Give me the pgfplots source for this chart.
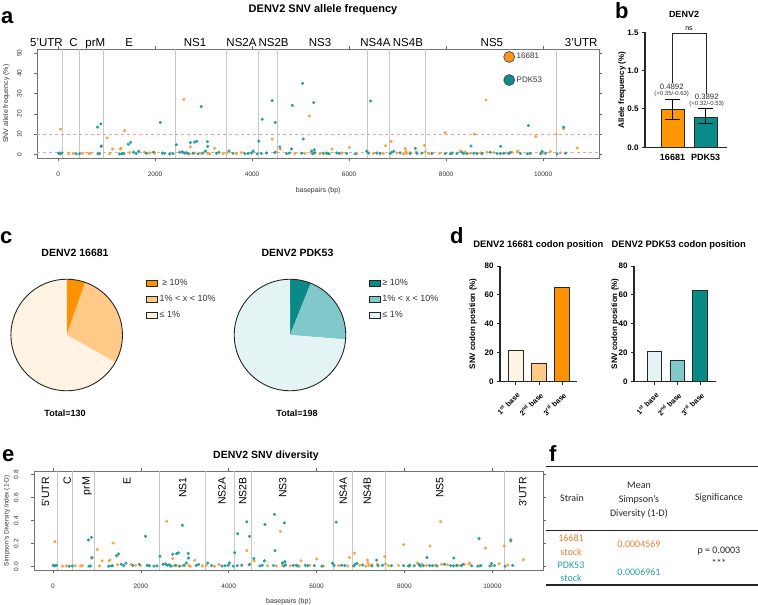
\documentclass[border=0pt]{standalone}
\usepackage{fontspec}
\setmainfont{Liberation Sans}
\newfontfamily\carlito{Carlito}
\usepackage{pgfplots}
\usepackage{pgfplotstable}
\pgfplotsset{compat=1.18}

\definecolor{ptOr}{HTML}{F9A23C}
\definecolor{ptTe}{HTML}{23A0A0}
\definecolor{lgOr}{HTML}{F7941D}
\definecolor{lgTe}{HTML}{0E8C8C}
\definecolor{bOr}{HTML}{FF9800}
\definecolor{bTe}{HTML}{0B8A8A}
\definecolor{pO1}{HTML}{FF9200}
\definecolor{pO2}{HTML}{FFC987}
\definecolor{pO3}{HTML}{FFF3E4}
\definecolor{pT1}{HTML}{0A8989}
\definecolor{pT2}{HTML}{80C8C9}
\definecolor{pT3}{HTML}{E4F4F4}
\definecolor{fOr}{HTML}{ED7D31}
\definecolor{fTe}{HTML}{2A9FA0}
\definecolor{rgrid}{HTML}{C8C8C8}
\definecolor{rdash}{HTML}{E8A2A2}

\pgfplotstableread{
x f d
48 12.4 0.2172
60 0.5 0.0100
219 0.2 0.0040
310 0.3 0.0060
509 0.4 0.0080
633 0.3 0.0060
667 0.5 0.0100
901 4.2 0.0805
1012 8.1 0.1489
1060 0.3 0.0060
1122 2.6 0.0506
1281 2.6 0.0506
1300 3.0 0.0582
1370 11.6 0.2051
1473 0.8 0.0159
1783 1.0 0.0198
1886 0.6 0.0119
1990 0.5 0.0100
2150 0.4 0.0080
2575 0.8 0.0159
2593 27.1 0.3951
2713 0.2 0.0040
2727 3.7 0.0713
2816 0.6 0.0119
2954 0.4 0.0080
3091 0.5 0.0100
3126 0.2 0.0040
3229 2.9 0.0563
3401 0.3 0.0060
3484 0.6 0.0119
3678 0.2 0.0040
3781 0.9 0.0178
4413 7.5 0.1388
4490 1.2 0.0237
4579 2.6 0.0506
4882 0.4 0.0080
5089 0.3 0.0060
5178 18.9 0.3066
5227 0.5 0.0100
5399 0.3 0.0060
5605 0.2 0.0040
5647 2.6 0.0506
5847 0.6 0.0119
6004 3.4 0.0657
6157 0.3 0.0060
6500 0.4 0.0080
6707 0.3 0.0060
6748 4.2 0.0805
6866 6.3 0.1181
6983 0.6 0.0119
7120 0.2 0.0040
7155 2.9 0.0563
7170 1.6 0.0315
7190 0.5 0.0100
7258 0.8 0.0159
7382 1.1 0.0218
7554 4.5 0.0860
7568 1.2 0.0237
7637 0.4 0.0080
7864 0.5 0.0100
7981 10.7 0.1911
8120 0.3 0.0060
8291 1.6 0.0315
8395 1.1 0.0218
8498 0.5 0.0100
8580 10.0 0.1800
8705 0.7 0.0139
8822 26.8 0.3924
8843 1.0 0.0198
8981 0.8 0.0159
9221 0.6 0.0119
9360 1.0 0.0198
9463 1.1 0.0218
9483 1.6 0.0315
9703 0.3 0.0060
9847 8.8 0.1605
9979 0.4 0.0080
10151 1.3 0.0257
10268 10.0 0.1800
10357 0.7 0.0139
10420 12.6 0.2202
10702 3.1 0.0601
}\tabO

\pgfplotstableread{
x f d
6 0.5 0.0100
41 0.3 0.0060
76 0.6 0.0119
372 0.2 0.0040
441 0.3 0.0060
812 13.4 0.2321
820 0.2 0.0040
855 0.3 0.0060
880 15.0 0.2550
885 3.9 0.0750
1267 0.2 0.0040
1322 0.3 0.0060
1357 0.4 0.0080
1446 5.0 0.0950
1494 5.9 0.1110
1556 1.0 0.0198
1611 0.4 0.0080
1662 1.5 0.0296
1818 0.5 0.0100
1969 1.0 0.0198
2107 15.7 0.2647
2149 0.6 0.0119
2197 0.4 0.0080
2300 0.2 0.0040
2368 0.3 0.0060
2438 4.7 0.0896
2506 1.0 0.0198
2562 1.2 0.0237
2609 0.6 0.0119
2644 0.8 0.0159
2678 0.3 0.0060
2727 5.7 0.1075
2781 0.5 0.0100
2817 6.0 0.1128
2858 6.4 0.1198
2885 0.2 0.0040
2948 23.5 0.3596
2988 0.6 0.0119
3037 1.6 0.0315
3078 6.2 0.1163
3085 3.9 0.0750
3264 0.5 0.0100
3318 1.0 0.0198
3525 1.6 0.0315
3608 0.5 0.0100
3849 0.3 0.0060
3918 0.4 0.0080
3988 0.6 0.0119
4021 1.6 0.0315
4103 0.2 0.0040
4138 6.5 0.1216
4194 0.4 0.0080
4207 17.3 0.2861
4297 0.6 0.0119
4413 26.5 0.3896
4469 0.8 0.0159
4475 15.7 0.2647
4572 3.6 0.0694
4711 0.3 0.0060
4764 0.6 0.0119
4814 2.6 0.0506
4826 24.2 0.3669
5021 0.5 0.0100
5041 35.0 0.4550
5054 7.5 0.1388
5227 1.6 0.0315
5260 0.3 0.0060
5268 25.5 0.3800
5280 2.2 0.0430
5296 0.8 0.0159
5467 0.5 0.0100
5537 0.6 0.0119
5570 0.3 0.0060
5744 0.6 0.0119
5798 0.4 0.0080
5950 0.4 0.0080
6122 0.2 0.0040
6364 1.5 0.0296
6397 0.6 0.0119
6446 26.3 0.3877
6570 0.6 0.0119
6638 0.4 0.0080
6845 0.3 0.0060
6880 1.0 0.0198
6919 1.5 0.0296
7052 0.7 0.0139
7258 0.3 0.0060
7367 2.9 0.0563
7397 0.4 0.0080
7500 0.6 0.0119
7707 0.4 0.0080
7981 0.4 0.0080
8085 0.3 0.0060
8120 0.6 0.0119
8223 0.4 0.0080
8326 1.0 0.0198
8360 0.3 0.0060
8430 0.4 0.0080
8512 4.1 0.0786
8568 0.5 0.0100
8636 0.4 0.0080
8740 0.3 0.0060
8911 1.0 0.0198
9050 0.4 0.0080
9118 0.3 0.0060
9124 3.9 0.0750
9187 0.5 0.0100
9290 0.4 0.0080
9325 0.9 0.0178
9531 0.4 0.0080
9669 0.2 0.0040
9696 14.2 0.2437
9738 0.4 0.0080
9945 0.3 0.0060
9979 1.4 0.0276
10048 0.5 0.0100
10289 0.2 0.0040
10420 13.4 0.2321
10461 0.5 0.0100
}\tabT

\pgfplotsset{
  Rax/.style={
    scale only axis, clip=false,
    xmin=-429, xmax=11152,
    axis line style={draw=black!55, line width=0.6pt},
    tick align=outside, major tick length=3pt,
    tick style={draw=black!60, line width=0.5pt},
    xtick={0,2000,4000,6000,8000,10000},
    scaled x ticks=false, scaled y ticks=false,
    ticklabel style={font=\fontsize{6.5}{7}\selectfont, text=black!80},
    xticklabel style={/pgf/number format/1000 sep={}},
    yticklabel style={rotate=90, anchor=south},
    xticklabel shift=7pt, yticklabel shift=9pt,
    label style={font=\fontsize{7}{8}\selectfont, text=black!80},
    /pgf/number format/assume math mode=true,
  },
  Bax/.style={
    scale only axis, clip=false,
    axis x line=bottom, axis y line=left,
    axis line style={-, line width=1.1pt, draw=black!85},
    tick align=outside, major tick length=3pt,
    tick style={line width=1pt, draw=black!85},
    ticklabel style={font=\bfseries\fontsize{8}{9}\selectfont},
    label style={font=\bfseries\fontsize{8}{9}\selectfont},
    /pgf/number format/assume math mode=true,
  },
  Pie/.style={
    scale only axis, hide axis, clip=false,
    width=111.6pt, height=111.6pt,
    xmin=-1, xmax=1, ymin=-1, ymax=1,
    legend image code/.code={\draw[##1, line width=0.8pt] (0pt,-3pt) rectangle (11pt,3pt);},
    legend style={draw=none, fill=none, inner sep=0pt, anchor=north west,
      font=\fontsize{9}{10}\selectfont, row sep=4.5pt, legend cell align=left,
      nodes={inner sep=2pt, text=black!80}},
  },
  ebar/.style={forget plot, black, line width=0.8pt},
}

\begin{document}
\begin{tikzpicture}
\path[use as bounding box] (0,0) rectangle (758pt,-605pt);

% ---------------- panel letters -----------------
\tikzset{letter/.style={anchor=base west, inner sep=0pt, font=\bfseries\fontsize{22}{24}\selectfont}}
\node[letter] at (1pt,-23.3pt) {a};
\node[letter] at (615pt,-18.3pt) {b};
\node[letter] at (0pt,-243.3pt) {c};
\node[letter] at (450pt,-243.3pt) {d};
\node[letter] at (2pt,-461pt) {e};
\node[letter] at (549pt,-461pt) {f};

% ---------------- panel a -----------------
\node[font=\bfseries\fontsize{11}{12}\selectfont] at (323pt,-10pt) {DENV2 SNV allele frequency};
\begin{axis}[Rax,
  at={(37.3pt,-158.3pt)}, anchor=south west,
  width=561.7pt, height=109.3pt,
  ymin=-2, ymax=52, ytick={0,10,20,30,40,50},
  xlabel={basepairs (bp)}, ylabel={SNV allele frequency (\%)},
  x label style={at={([yshift=-32pt]axis description cs:0.5,0)}, anchor=center},
  y label style={at={([xshift=-31pt]axis description cs:0,0.5)}, anchor=center},
  legend style={at={(0.83,0.98)}, anchor=north west, draw=none, fill=none,
    font=\fontsize{8}{9}\selectfont, row sep=12pt, inner sep=0pt,
    nodes={text=black!80}},
  legend cell align=left,
]
\addplot[forget plot, rgrid, line width=0.8pt, unbounded coords=jump] coordinates {
(96,-2) (96,52) (nan,nan) (438,-2) (438,52) (nan,nan) (936,-2) (936,52) (nan,nan)
(2421,-2) (2421,52) (nan,nan) (3477,-2) (3477,52) (nan,nan) (4131,-2) (4131,52) (nan,nan)
(4521,-2) (4521,52) (nan,nan) (6375,-2) (6375,52) (nan,nan) (6825,-2) (6825,52) (nan,nan)
(7572,-2) (7572,52) (nan,nan) (10269,-2) (10269,52)};
\addplot[forget plot, rdash, dashed, line width=0.6pt] coordinates {(-429,10) (11152,10)};
\addplot[forget plot, rdash, dashed, line width=0.6pt] coordinates {(-429,1) (11152,1)};
\addplot[forget plot, only marks, mark=*, color=ptOr, mark size=1.35pt] table[x=x, y=f] {\tabO};
\addplot[forget plot, only marks, mark=*, color=ptTe, mark size=1.35pt] table[x=x, y=f] {\tabT};
\addlegendimage{only marks, mark=*, mark size=5.5pt, mark options={fill=lgOr, draw=black!75, line width=0.6pt}}
\addlegendentry{16681}
\addlegendimage{only marks, mark=*, mark size=5.5pt, mark options={fill=lgTe, draw=black!75, line width=0.6pt}}
\addlegendentry{PDK53}
\tikzset{rlab/.style={anchor=base, inner sep=0pt, yshift=3pt, font=\fontsize{11.5}{12}\selectfont}}
\node[rlab] at (axis cs:-241,52) {5'UTR};
\node[rlab] at (axis cs:318,52) {C};
\node[rlab] at (axis cs:767,52) {prM};
\node[rlab] at (axis cs:1467,52) {E};
\node[rlab] at (axis cs:2824,52) {NS1};
\node[rlab] at (axis cs:3781,52) {NS2A};
\node[rlab] at (axis cs:4443,52) {NS2B};
\node[rlab] at (axis cs:5402,52) {NS3};
\node[rlab] at (axis cs:6543,52) {NS4A};
\node[rlab] at (axis cs:7213,52) {NS4B};
\node[rlab] at (axis cs:8944,52) {NS5};
\node[rlab] at (axis cs:10785,52) {3'UTR};
\end{axis}

% ---------------- panel b -----------------
\node[font=\bfseries\fontsize{9}{10}\selectfont] at (684pt,-14.3pt) {DENV2};
\begin{axis}[Bax,
  at={(645pt,-147.3pt)}, anchor=south west,
  width=81.7pt, height=115pt,
  xmin=0, xmax=81.7, ymin=0, ymax=1.5,
  ytick={0,0.5,1,1.5},
  yticklabel style={/pgf/number format/.cd, fixed, fixed zerofill, precision=1},
  xtick={27.5,60.5}, xticklabels={16681,PDK53},
  xtick style={draw=none},
  xticklabel style={font=\bfseries\fontsize{9}{10}\selectfont},
  ylabel={Allele frequency (\%)},
  y label style={at={([xshift=-23pt]axis description cs:0,0.5)}, anchor=center},
]
\addplot[ybar, bar width=23pt, bar shift=0pt, fill=bOr, draw=black!85, line width=0.9pt] coordinates {(27.5,0.4892)};
\addplot[ybar, bar width=23pt, bar shift=0pt, fill=bTe, draw=black!85, line width=0.9pt] coordinates {(60.5,0.3892)};
% error bars (lower / upper bounds)
\addplot[ebar] coordinates {(27.5,0.365) (27.5,0.626)};
\addplot[ebar] coordinates {(20,0.365) (35,0.365)};
\addplot[ebar] coordinates {(20,0.626) (35,0.626)};
\addplot[ebar] coordinates {(60.5,0.313) (60.5,0.509)};
\addplot[ebar] coordinates {(53,0.313) (68,0.313)};
\addplot[ebar] coordinates {(53,0.509) (68,0.509)};
\draw[black!85, line width=0.8pt] (axis cs:27.7,0.835) -- (axis cs:27.7,1.487) -- (axis cs:61,1.487) -- (axis cs:61,0.691);
\node[font=\fontsize{7}{8}\selectfont] at (axis cs:44,1.545) {ns};
\node[font=\fontsize{7.8}{9}\selectfont, text=black!80] at (axis cs:26.7,0.79) {0.4892};
\node[font=\fontsize{6}{7}\selectfont, text=black!80] at (axis cs:26.7,0.699) {(+0.35/-0.63)};
\node[font=\fontsize{7.8}{9}\selectfont, text=black!80] at (axis cs:61.7,0.66) {0.3892};
\node[font=\fontsize{6}{7}\selectfont, text=black!80] at (axis cs:61.7,0.561) {(+0.32/-0.53)};
\end{axis}

% ---------------- panel c -----------------
\node[font=\bfseries\fontsize{10.5}{12}\selectfont] at (75pt,-253.3pt) {DENV2 16681};
\node[font=\bfseries\fontsize{10.5}{12}\selectfont] at (297.5pt,-253.3pt) {DENV2 PDK53};
\node[font=\bfseries\fontsize{9}{10}\selectfont] at (65pt,-413pt) {Total=130};
\node[font=\bfseries\fontsize{9}{10}\selectfont] at (297pt,-413pt) {Total=198};
\begin{axis}[Pie, at={(66.7pt,-335pt)}, anchor=center,
  legend style={at={(1.208,1.02)}}]
\addlegendimage{fill=pO1, draw=black!85}
\addlegendentry{\ ≥ 10\%}
\addlegendimage{fill=pO2, draw=black!85}
\addlegendentry{1\% < x < 10\%}
\addlegendimage{fill=pO3, draw=black!85}
\addlegendentry{≤ 1\%}
\fill[pO1] (axis cs:0,0) -- ++(90:55.8pt) arc[start angle=90, delta angle={-7/130*360}, radius=55.8pt] -- cycle;
\fill[pO2] (axis cs:0,0) -- ++({90-7/130*360}:55.8pt) arc[start angle={90-7/130*360}, delta angle={-36/130*360}, radius=55.8pt] -- cycle;
\fill[pO3] (axis cs:0,0) -- ++({90-43/130*360}:55.8pt) arc[start angle={90-43/130*360}, delta angle={-87/130*360}, radius=55.8pt] -- cycle;
\draw[black!85, line width=0.9pt] (axis cs:0,0) circle[radius=55.8pt];
\end{axis}
\begin{axis}[Pie, at={(290pt,-335pt)}, anchor=center,
  legend style={at={(1.202,1.02)}}]
\addlegendimage{fill=pT1, draw=black!85}
\addlegendentry{≥ 10\%}
\addlegendimage{fill=pT2, draw=black!85}
\addlegendentry{1\% < x < 10\%}
\addlegendimage{fill=pT3, draw=black!85}
\addlegendentry{≤ 1\%}
\fill[pT1] (axis cs:0,0) -- ++(90:55.8pt) arc[start angle=90, delta angle={-12/198*360}, radius=55.8pt] -- cycle;
\fill[pT2] (axis cs:0,0) -- ++({90-12/198*360}:55.8pt) arc[start angle={90-12/198*360}, delta angle={-40/198*360}, radius=55.8pt] -- cycle;
\fill[pT3] (axis cs:0,0) -- ++({90-52/198*360}:55.8pt) arc[start angle={90-52/198*360}, delta angle={-146/198*360}, radius=55.8pt] -- cycle;
\draw[black!85, line width=0.9pt] (axis cs:0,0) circle[radius=55.8pt];
\end{axis}

% ---------------- panel d -----------------
\node[font=\bfseries\fontsize{9.4}{11}\selectfont] at (538.3pt,-245pt) {DENV2 16681 codon position};
\node[font=\bfseries\fontsize{9.4}{11}\selectfont] at (678.8pt,-245pt) {DENV2 PDK53 codon position};
\begin{axis}[Bax,
  at={(500pt,-381.7pt)}, anchor=south west,
  width=77.3pt, height=115.7pt,
  xmin=0, xmax=77.3, ymin=0, ymax=80, ytick={0,20,40,60,80},
  xtick={15.8,39,62}, xticklabels={1\textsuperscript{st} base, 2\textsuperscript{nd} base, 3\textsuperscript{rd} base},
  xticklabel shift=5pt,
  xticklabel style={rotate=45, anchor=north east, inner sep=1pt, font=\bfseries\fontsize{7.3}{8}\selectfont},
  ylabel={SNV codon position (\%)},
  y label style={at={([xshift=-27pt]axis description cs:0,0.5)}, anchor=center},
]
\addplot[ybar, bar width=14.5pt, bar shift=0pt, fill=pO3, draw=black!85, line width=1pt] coordinates {(15.8,21.5)};
\addplot[ybar, bar width=14.5pt, bar shift=0pt, fill=pO2, draw=black!85, line width=1pt] coordinates {(39,12.5)};
\addplot[ybar, bar width=14.5pt, bar shift=0pt, fill=pO1, draw=black!85, line width=1pt] coordinates {(62,65)};
\end{axis}
\begin{axis}[Bax,
  at={(634pt,-381.7pt)}, anchor=south west,
  width=82pt, height=115.7pt,
  xmin=0, xmax=82, ymin=0, ymax=80, ytick={0,20,40,60,80},
  xtick={20.7,43.2,66}, xticklabels={1\textsuperscript{st} base, 2\textsuperscript{nd} base, 3\textsuperscript{rd} base},
  xticklabel shift=5pt,
  xticklabel style={rotate=45, anchor=north east, inner sep=1pt, font=\bfseries\fontsize{7.3}{8}\selectfont},
  ylabel={SNV codon position (\%)},
  y label style={at={([xshift=-19pt]axis description cs:0,0.5)}, anchor=center},
]
\addplot[ybar, bar width=14.3pt, bar shift=0pt, fill=pT3, draw=black!85, line width=1pt] coordinates {(20.7,21.2)};
\addplot[ybar, bar width=14.3pt, bar shift=0pt, fill=pT2, draw=black!85, line width=1pt] coordinates {(43.2,14.8)};
\addplot[ybar, bar width=14.3pt, bar shift=0pt, fill=pT1, draw=black!85, line width=1pt] coordinates {(66,63)};
\end{axis}

% ---------------- panel e -----------------
\node[font=\bfseries\fontsize{10.5}{12}\selectfont] at (266pt,-456pt) {DENV2 SNV diversity};
\begin{axis}[Rax,
  at={(34pt,-570.3pt)}, anchor=south west,
  width=509pt, height=99.3pt,
  ymin=-0.032, ymax=0.832, ytick={0,0.2,0.4,0.6,0.8},
  yticklabel style={/pgf/number format/.cd, fixed, fixed zerofill, precision=1},
  xlabel={basepairs (bp)}, ylabel={Simpson's Diversity Index (1-D)},
  x label style={at={([yshift=-31pt]axis description cs:0.5,0)}, anchor=center},
  y label style={at={([xshift=-27pt]axis description cs:0,0.5)}, anchor=center, font=\fontsize{6.5}{7}\selectfont},
]
\addplot[forget plot, rgrid, line width=0.8pt, unbounded coords=jump] coordinates {
(96,-0.032) (96,0.832) (nan,nan) (438,-0.032) (438,0.832) (nan,nan) (936,-0.032) (936,0.832) (nan,nan)
(2421,-0.032) (2421,0.832) (nan,nan) (3477,-0.032) (3477,0.832) (nan,nan) (4131,-0.032) (4131,0.832) (nan,nan)
(4521,-0.032) (4521,0.832) (nan,nan) (6375,-0.032) (6375,0.832) (nan,nan) (6825,-0.032) (6825,0.832) (nan,nan)
(7572,-0.032) (7572,0.832) (nan,nan) (10269,-0.032) (10269,0.832)};
\addplot[forget plot, only marks, mark=*, color=ptOr, mark size=1.35pt] table[x=x, y=d] {\tabO};
\addplot[forget plot, only marks, mark=*, color=ptTe, mark size=1.35pt] table[x=x, y=d] {\tabT};
\tikzset{elab/.style={rotate=90, anchor=east, inner sep=0pt, font=\fontsize{10.5}{11}\selectfont}}
\node[elab] at (axis cs:-166,0.78) {5'UTR};
\node[elab] at (axis cs:327,0.78) {C};
\node[elab] at (axis cs:781,0.78) {prM};
\node[elab] at (axis cs:1690,0.78) {E};
\node[elab] at (axis cs:2953,0.78) {NS1};
\node[elab] at (axis cs:3846,0.78) {NS2A};
\node[elab] at (axis cs:4323,0.78) {NS2B};
\node[elab] at (axis cs:5231,0.78) {NS3};
\node[elab] at (axis cs:6608,0.78) {NS4A};
\node[elab] at (axis cs:7153,0.78) {NS4B};
\node[elab] at (axis cs:8803,0.78) {NS5};
\node[elab] at (axis cs:10693,0.78) {3'UTR};
\end{axis}

% ---------------- panel f -----------------
\draw[black!85, line width=1.3pt] (546pt,-466.7pt) -- (758pt,-466.7pt);
\draw[black!85, line width=1pt] (546pt,-530.7pt) -- (758pt,-530.7pt);
\draw[black!85, line width=1.3pt] (546pt,-585pt) -- (758pt,-585pt);
\tikzset{ft/.style={font=\carlito\fontsize{10}{12}\selectfont, inner sep=0pt, text=black!85}}
\node[ft] at (572pt,-498.3pt) {Strain};
\node[ft] at (639pt,-485pt) {Mean};
\node[ft] at (639pt,-499.3pt) {Simpson’s};
\node[ft] at (639pt,-513.3pt) {Diversity (1-D)};
\node[ft] at (719pt,-498.3pt) {Significance};
\node[ft, text=fOr] at (571pt,-537.7pt) {16681};
\node[ft, text=fOr] at (571pt,-551.7pt) {stock};
\node[ft, text=fOr] at (639pt,-544pt) {0.0004569};
\node[ft, text=fTe] at (571pt,-565pt) {PDK53};
\node[ft, text=fTe] at (571pt,-578.3pt) {stock};
\node[ft, text=fTe] at (639pt,-571.7pt) {0.0006961};
\node[ft] at (719pt,-551pt) {p = 0.0003};
\node[ft] at (719pt,-563pt) {***};
\end{tikzpicture}
\end{document}
